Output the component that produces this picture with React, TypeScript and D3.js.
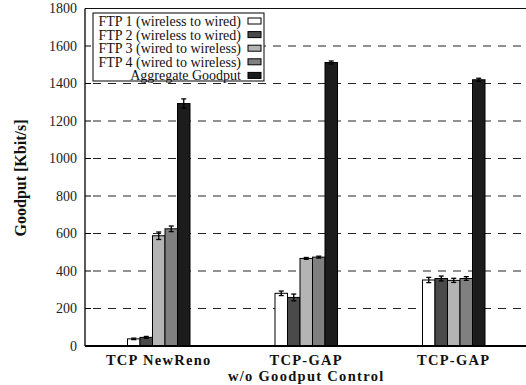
import React, { useEffect, useRef } from "react";
import * as d3 from "d3";

// data
const groups = ["TCP NewReno", "TCP-GAP|w/o Goodput Control", "TCP-GAP"];
const seriesNames = [
  "FTP 1 (wireless to wired)",
  "FTP 2 (wireless to wired)",
  "FTP 3 (wired to wireless)",
  "FTP 4 (wired to wireless)",
  "Aggregate Goodput",
];
const seriesColors = ["#ffffff", "#4a4a4a", "#b4b4b4", "#808080", "#1c1c1c"];
// values per group, in series order
const goodput = [
  [38, 46, 588, 625, 1293],
  [281, 259, 467, 474, 1512],
  [352, 360, 350, 360, 1420],
];
const errors = [
  [4, 5, 20, 15, 25],
  [12, 18, 5, 5, 8],
  [14, 13, 11, 10, 8],
];
const yTicks = [0, 200, 400, 600, 800, 1000, 1200, 1400, 1600, 1800];

const FONT = "'Liberation Serif', 'Times New Roman', Times, 'DejaVu Serif', serif";

const App = () => {
  const svgRef = useRef<SVGSVGElement>(null);

  useEffect(() => {
    const W = 526, H = 385;
    const svg = d3.select(svgRef.current);
    svg.selectAll("*").remove();
    svg.attr("width", W).attr("height", H).style("font-family", FONT);

    const left = 85, bottom = 346, top = 8.5;
    const x = d3.scaleBand().domain(groups).range([left, left + 3 * 147.5]).paddingInner(0).paddingOuter(0);
    const y = d3.scaleLinear().domain([0, 1800]).range([bottom, top]);
    const barW = 12.5;

    // grid lines
    svg.append("g").selectAll("line")
      .data(yTicks.filter(t => t > 0 && t < 1800))
      .enter().append("line")
      .attr("x1", left + 8).attr("x2", W)
      .attr("y1", d => y(d)).attr("y2", d => y(d))
      .attr("stroke", "#222").attr("stroke-width", 1)
      .attr("stroke-dasharray", "8,7");

    // top frame line
    svg.append("line").attr("x1", left).attr("x2", W).attr("y1", y(1800)).attr("y2", y(1800))
      .attr("stroke", "#111").attr("stroke-width", 1.2);

    // bars
    groups.forEach((g, gi) => {
      const cx = x(g)! + x.bandwidth() / 2;
      const x0 = cx - (seriesNames.length * barW) / 2;
      goodput[gi].forEach((v, si) => {
        const bx = x0 + si * barW;
        svg.append("rect")
          .attr("x", bx).attr("y", y(v))
          .attr("width", barW).attr("height", bottom - y(v))
          .attr("fill", seriesColors[si])
          .attr("stroke", "#000").attr("stroke-width", 1);
        const e = errors[gi][si];
        const mx = bx + barW / 2;
        const eg = svg.append("g").attr("stroke", "#000").attr("stroke-width", 1.3);
        eg.append("line").attr("x1", mx).attr("x2", mx).attr("y1", y(v - e)).attr("y2", y(v + e));
        eg.append("line").attr("x1", mx - 2.5).attr("x2", mx + 2.5).attr("y1", y(v - e)).attr("y2", y(v - e));
        eg.append("line").attr("x1", mx - 2.5).attr("x2", mx + 2.5).attr("y1", y(v + e)).attr("y2", y(v + e));
      });
    });

    // y axis
    svg.append("line").attr("x1", left).attr("x2", left).attr("y1", top).attr("y2", bottom)
      .attr("stroke", "#000").attr("stroke-width", 1.3);
    const yt = svg.append("g");
    yTicks.forEach(t => {
      if (t > 0 && t < 1800) {
        yt.append("line").attr("x1", left).attr("x2", left + 6).attr("y1", y(t)).attr("y2", y(t))
          .attr("stroke", "#000").attr("stroke-width", 1);
      }
      yt.append("text").attr("x", left - 8).attr("y", y(t)).attr("dy", "0.35em")
        .attr("text-anchor", "end")
        .attr("font-size", 14).attr("fill", "#222").text(t);
    });

    // x axis
    svg.append("line").attr("x1", left).attr("x2", W).attr("y1", bottom).attr("y2", bottom)
      .attr("stroke", "#000").attr("stroke-width", 2);
    groups.forEach(g => {
      const cx = x(g)! + x.bandwidth() / 2;
      g.split("|").forEach((line, li) => {
        svg.append("text").attr("x", cx).attr("y", 365 + li * 16)
          .attr("text-anchor", "middle")
          .attr("font-weight", "bold").attr("font-size", 14.5)
          .attr("letter-spacing", 1.3).attr("fill", "#111").text(line);
      });
    });

    // y label
    svg.append("text")
      .attr("transform", `translate(26, 178) rotate(-90)`)
      .attr("text-anchor", "middle")
      .attr("font-weight", "bold").attr("font-size", 16)
      .attr("fill", "#111").text("Goodput [Kbit/s]");

    // legend
    const lg = svg.append("g");
    lg.append("rect").attr("x", 93).attr("y", 13).attr("width", 171).attr("height", 68)
      .attr("fill", "#fff").attr("stroke", "#000").attr("stroke-width", 1);
    seriesNames.forEach((s, i) => {
      const ly = 21 + i * 13.6;
      lg.append("text").attr("x", 241).attr("y", ly).attr("dy", "0.35em")
        .attr("text-anchor", "end")
        .attr("font-size", 14).attr("fill", "#111").text(s);
      lg.append("rect").attr("x", 248).attr("y", ly - 3).attr("width", 13).attr("height", 6)
        .attr("fill", seriesColors[i]).attr("stroke", "#000").attr("stroke-width", 1);
    });
  }, []);

  return <svg ref={svgRef} style={{ position: "absolute", left: 0, top: 0 }}></svg>;
};

export default App;
